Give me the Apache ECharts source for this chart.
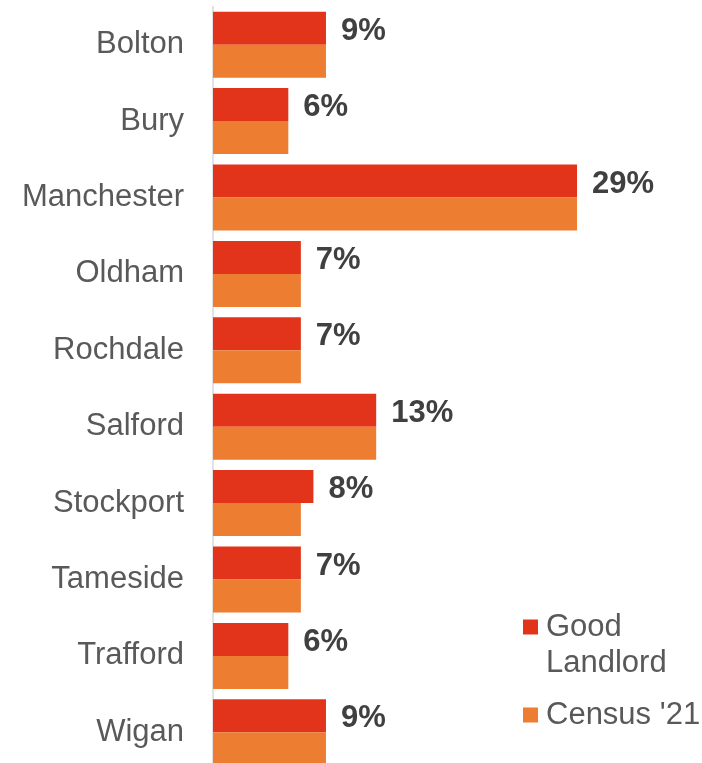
<!DOCTYPE html>
<html>
<head>
<meta charset="utf-8">
<script src="https://cdn.jsdelivr.net/npm/echarts@6/dist/echarts.min.js"></script>
<style>
  html, body { margin: 0; padding: 0; background: #ffffff; }
  #chart { width: 702px; height: 763px; }
</style>
</head>
<body>
<div id="chart"></div>
<script>
// Share of landlords by borough: Good Landlord scheme vs Census 2021
const boroughs = ['Bolton', 'Bury', 'Manchester', 'Oldham', 'Rochdale', 'Salford', 'Stockport', 'Tameside', 'Trafford', 'Wigan'];
const goodLandlord = [9, 6, 29, 7, 7, 13, 8, 7, 6, 9];
const census21 = [9, 6, 29, 7, 7, 13, 7, 7, 6, 9];
const seriesNames = ['Good Landlord', "Census '21"];

const FONT = '"Liberation Sans", Arial, sans-serif';
const RED = '#E2341A';
const ORANGE = '#ED7D31';

const chart = echarts.init(document.getElementById('chart'), null, { renderer: 'canvas' });

chart.setOption({
  backgroundColor: '#ffffff',
  animation: false,
  grid: {
    left: 213, width: 477, top: 6.5, height: 764,
    outerBoundsMode: 'none',
    containLabel: false
  },
  xAxis: {
    type: 'value',
    min: 0,
    max: 38,
    show: false,
    splitLine: { show: false }
  },
  yAxis: {
    type: 'category',
    data: boroughs,
    inverse: true,
    axisLine: { show: true, lineStyle: { color: '#d9d9d9', width: 1.5 } },
    axisTick: { show: false },
    axisLabel: {
      margin: 29,
      fontFamily: FONT,
      fontSize: 31,
      color: '#595959'
    }
  },
  legend: [
    {
      data: [seriesNames[0]],
      left: 523,
      top: 573,
      orient: 'vertical',
      itemWidth: 15,
      itemHeight: 15,
      icon: 'rect',
      padding: 0,
      // leading blank line keeps the swatch level with "Good"
      formatter: () => '\nGood\nLandlord',
      textStyle: {
        fontFamily: FONT,
        fontSize: 31,
        lineHeight: 36,
        color: '#595959',
        padding: [0, 0, 0, 3]
      }
    },
    {
      data: [seriesNames[1]],
      left: 523,
      top: 697,
      orient: 'vertical',
      itemWidth: 15,
      itemHeight: 15,
      icon: 'rect',
      padding: 0,
      textStyle: {
        fontFamily: FONT,
        fontSize: 31,
        lineHeight: 36,
        color: '#595959',
        padding: [0, 0, 0, 3]
      }
    }
  ],
  series: [
    {
      name: seriesNames[0],
      type: 'bar',
      data: goodLandlord,
      barWidth: 33,
      barGap: '0%',
      itemStyle: { color: RED },
      label: {
        show: true,
        position: 'right',
        distance: 15,
        offset: [0, 3],
        formatter: '{c}%',
        fontFamily: FONT,
        fontSize: 31,
        fontWeight: 'bold',
        color: '#404040'
      }
    },
    {
      name: seriesNames[1],
      type: 'bar',
      data: census21,
      barWidth: 33,
      barGap: '0%',
      itemStyle: { color: ORANGE }
    }
  ]
});
</script>
</body>
</html>
